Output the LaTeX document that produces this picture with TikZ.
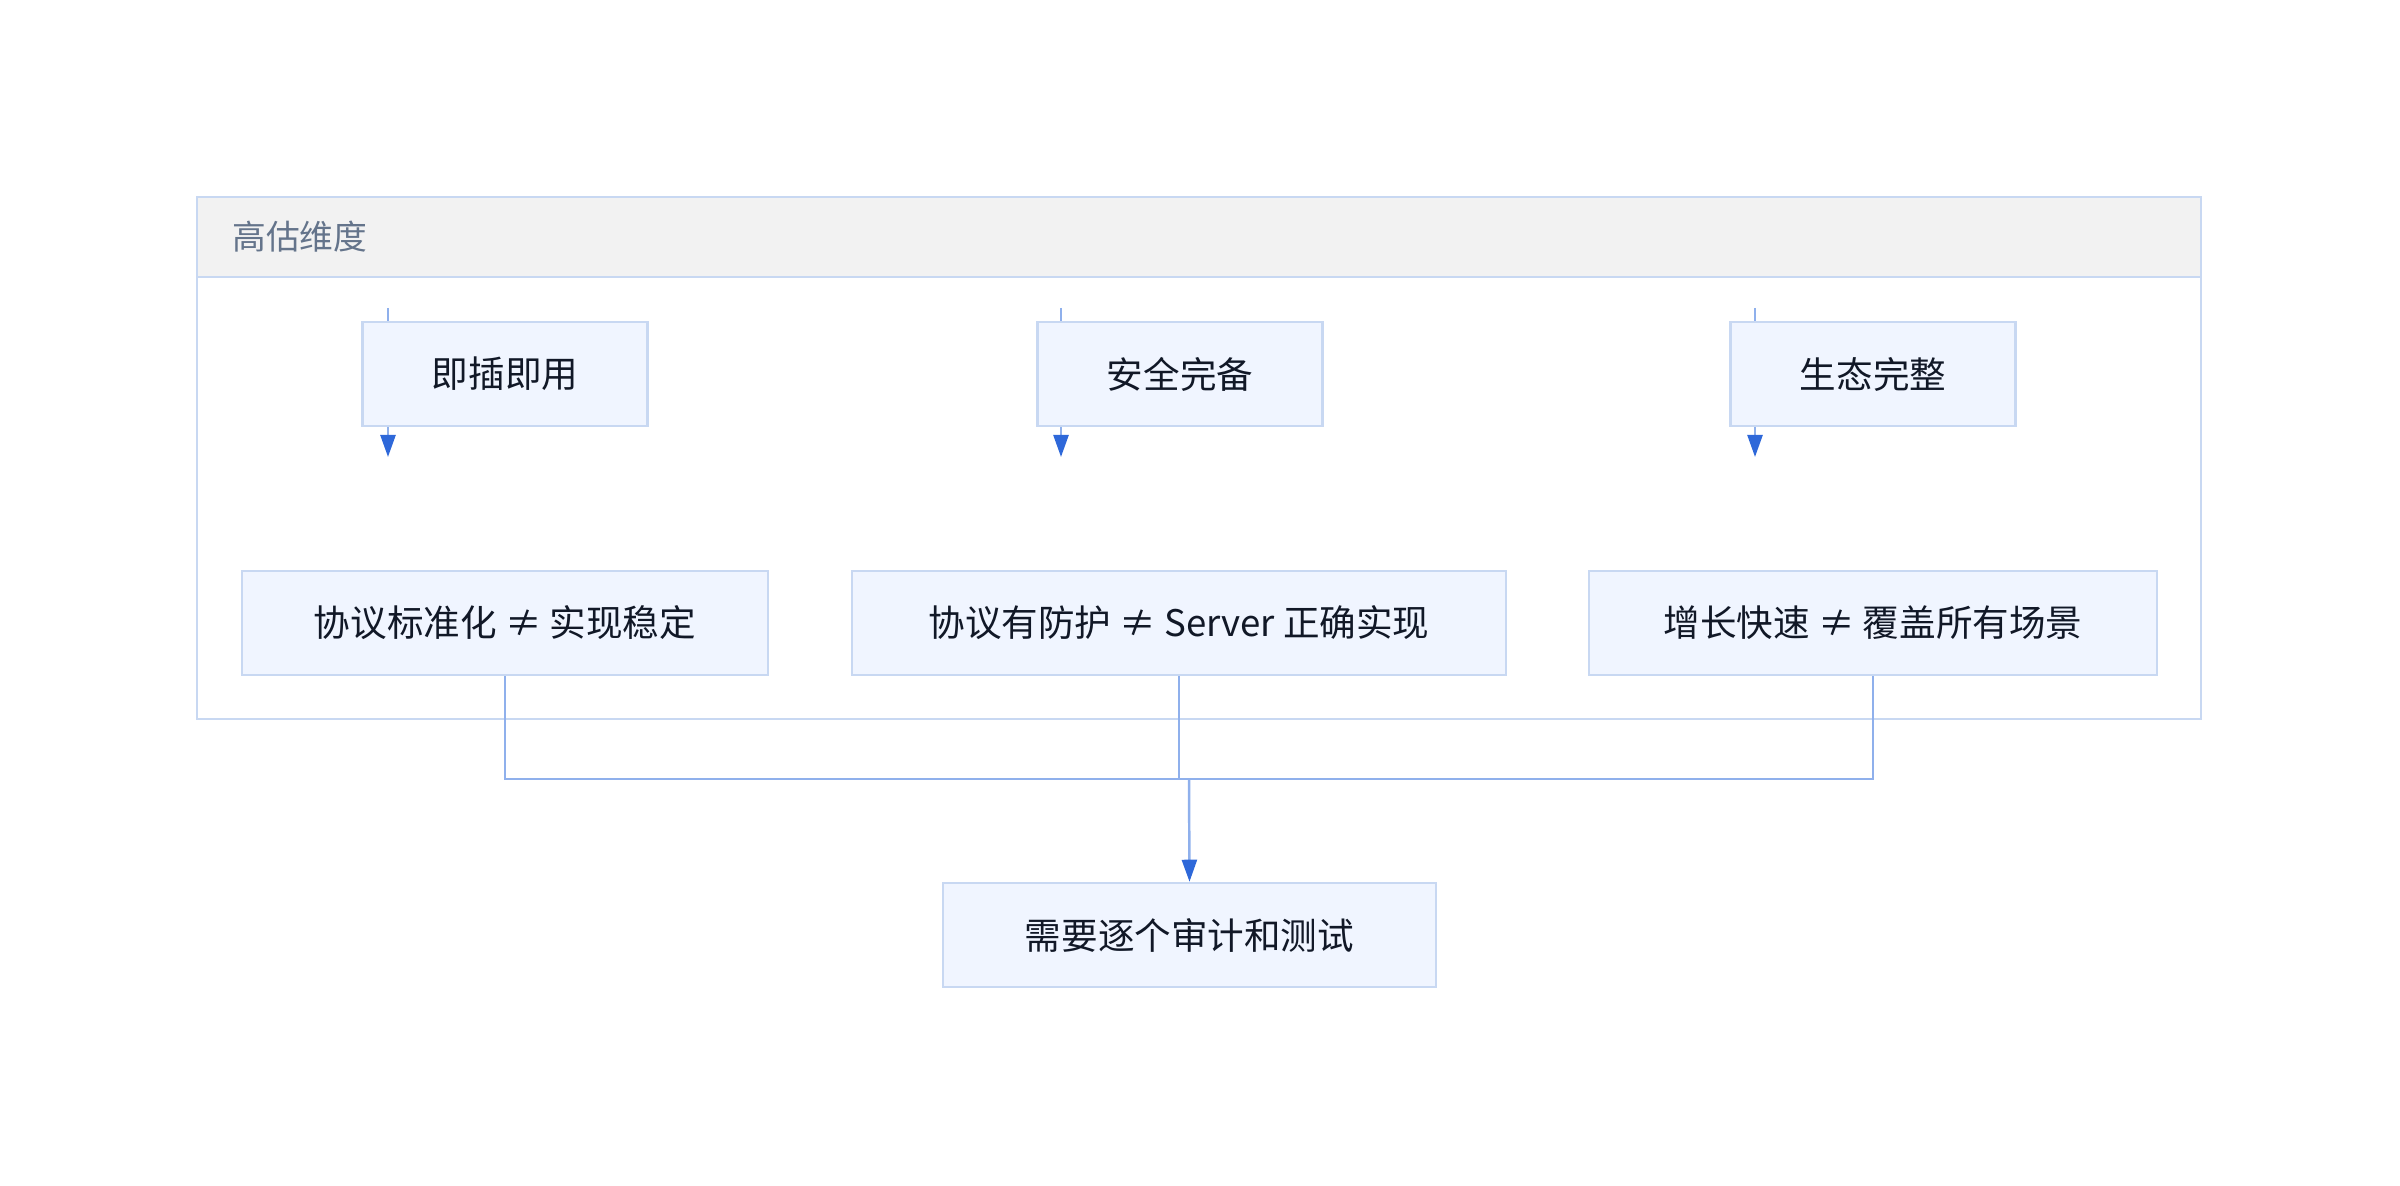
\documentclass[tikz,border=0pt]{standalone}
\usepackage{fontspec}
\setmainfont{Noto Sans CJK SC}
\usepackage{xcolor}
\usepackage{tikz}
\usetikzlibrary{calc, positioning, arrows.meta}
\definecolor{bdr}{RGB}{200,216,242}
\definecolor{boxfill}{RGB}{240,245,255}
\definecolor{hdrfill}{RGB}{242,242,242}
\definecolor{hdrtext}{RGB}{100,116,139}
\definecolor{edge}{RGB}{143,176,236}
\definecolor{tipblue}{RGB}{46,104,217}
\definecolor{ink}{RGB}{17,24,39}
\tikzset{
    item/.style={rectangle, draw=bdr, line width=0.7pt, fill=boxfill, align=center, minimum height=1.04cm, inner sep=0pt, text=ink, font=\fontsize{10.4pt}{12pt}\selectfont},
    link/.style={draw=edge, line width=0.7pt},
    arrow/.style={draw=edge, line width=0.7pt, -{Triangle[length=0.22cm, width=0.15cm, color=tipblue]}},
    group/.style={rectangle, draw=bdr, line width=0.7pt}
}
\begin{document}
\begin{tikzpicture}[x=0.01cm, y=-0.01cm]
    \useasboundingbox (0,0) rectangle (2400,1186);

    % --- GROUP ---
    \draw[group, fill=hdrfill] (197,197) rectangle (2201,277);
    \draw[group] (197,197) rectangle (2201,719);
    \node[anchor=west, text=hdrtext, font=\fontsize{9.6pt}{12pt}\selectfont] (G) at (220,237) {高估维度};

    % --- TOP ROW ---
    \node[item, minimum width=2.85cm] (A1) at (505,374) {即插即用};
    \node[item, minimum width=2.85cm] (A2) at (1180,374) {安全完备};
    \node[item, minimum width=2.85cm] (A3) at (1873,374) {生态完整};

    \coordinate (A1in) at (388,308);
    \coordinate (A1out) at (388,457);
    \coordinate (A2in) at (1061,308);
    \coordinate (A2out) at (1061,457);
    \coordinate (A3in) at (1755,308);
    \coordinate (A3out) at (1755,457);

    \draw[link] (A1in) -- (A1in |- A1.north);
    \draw[arrow] (A1out |- A1.south) -- (A1out);
    \draw[link] (A2in) -- (A2in |- A2.north);
    \draw[arrow] (A2out |- A2.south) -- (A2out);
    \draw[link] (A3in) -- (A3in |- A3.north);
    \draw[arrow] (A3out |- A3.south) -- (A3out);

    % --- BOTTOM ROW ---
    \node[item, minimum width=5.26cm] (B1) at (505,623) {协议标准化 ≠ 实现稳定};
    \node[item, minimum width=6.54cm] (B2) at (1179,623) {协议有防护 ≠ Server 正确实现};
    \node[item, minimum width=5.68cm] (B3) at (1873,623) {增长快速 ≠ 覆盖所有场景};

    % --- RESULT ---
    \node[item, minimum width=4.93cm] (C) at (1189.5,935) {需要逐个审计和测试};

    \coordinate (bus) at (1189,779);
    \draw[link] (B1.south) |- (bus);
    \draw[link] (B3.south) |- (bus);
    \draw[link] (B2.south) -- (B2.south |- bus);
    \draw[arrow] (bus) -- (C.north);

\end{tikzpicture}
\end{document}
